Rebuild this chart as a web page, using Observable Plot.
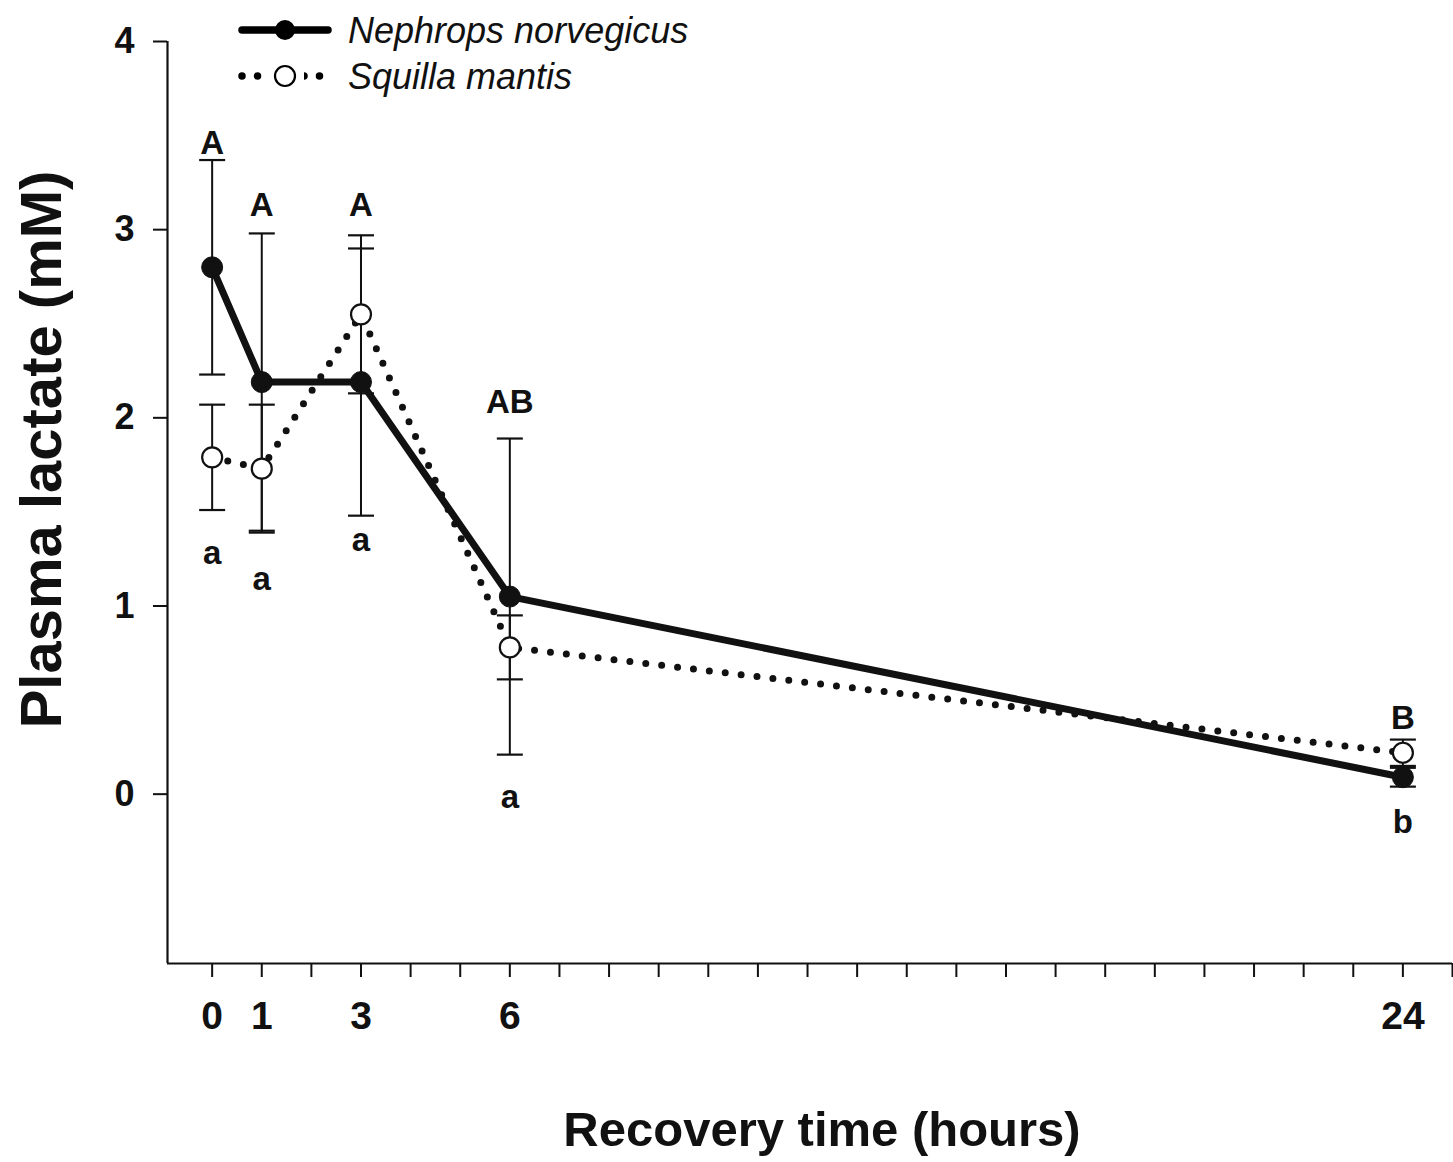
<!DOCTYPE html>
<html>
<head>
<meta charset="utf-8">
<script src="https://cdn.jsdelivr.net/npm/d3@7"></script>
<script src="https://cdn.jsdelivr.net/npm/@observablehq/plot@0.6"></script>
<style>
  html, body { margin: 0; padding: 0; background: #fff; }
  #wrap { position: relative; width: 1453px; height: 1162px; font-family: "Liberation Sans", Arial, sans-serif; }
  #legend { position: absolute; left: 0; top: 0; }
</style>
</head>
<body>
<div id="wrap">
  <div id="chart"></div>
  <svg id="legend" width="720" height="110" font-family="Liberation Sans, Arial, sans-serif">
    <line x1="242" y1="30" x2="328" y2="30" stroke="#000" stroke-width="7.5" stroke-linecap="round"></line>
    <circle cx="285" cy="30" r="10" fill="#000"></circle>
    <text x="348" y="30" dy="0.35em" font-size="36" font-style="italic" fill="#111">Nephrops norvegicus</text>
    <line x1="242" y1="76" x2="330" y2="76" stroke="#000" stroke-width="7.5" stroke-linecap="round" stroke-dasharray="0,15.5"></line>
    <rect x="266" y="62" width="38" height="28" fill="#fff"></rect>
    <circle cx="285" cy="76" r="10" fill="#fff" stroke="#000" stroke-width="2.2"></circle>
    <text x="348" y="76" dy="0.35em" font-size="36" font-style="italic" fill="#111">Squilla mantis</text>
  </svg>
</div>
<script>
// ---- data ----
const hours = [0, 1, 3, 6, 24];
const nephropsMean = [2.80, 2.19, 2.19, 1.05, 0.09];
const nephropsSE   = [0.57, 0.79, 0.71, 0.84, 0.05];
const squillaMean  = [1.79, 1.73, 2.55, 0.78, 0.22];
const squillaSE    = [0.28, 0.34, 0.42, 0.17, 0.07];
const upperLetters = ["A", "A", "A", "AB", "B"];
const upperLetterY = [3.46, 3.13, 3.13, 2.08, 0.40];
const lowerLetters = ["a", "a", "a", "a", "b"];
const lowerLetterY = [1.28, 1.14, 1.35, -0.02, -0.15];
const xTickValues = d3.range(0, 26);
const xTickLabels = [0, 1, 3, 6, 24];
const yTickValues = [0, 1, 2, 3, 4];
const xDomain = [-0.9, 25];
const yDomain = [-0.9, 4];

const nephrops = hours.map((h, i) => ({x: h, y: nephropsMean[i], lo: nephropsMean[i] - nephropsSE[i], hi: nephropsMean[i] + nephropsSE[i]}));
const squilla  = hours.map((h, i) => ({x: h, y: squillaMean[i], lo: squillaMean[i] - squillaSE[i], hi: squillaMean[i] + squillaSE[i]}));
const caps = [...nephrops, ...squilla].flatMap(d => [{x: d.x, y: d.lo}, {x: d.x, y: d.hi}]);
const upper = hours.map((h, i) => ({x: h, y: upperLetterY[i], t: upperLetters[i]}));
const lower = hours.map((h, i) => ({x: h, y: lowerLetterY[i], t: lowerLetters[i]}));

// horizontal cap symbol for error bars
const capSymbol = {
  draw(context, size) {
    const r = Math.sqrt(size / Math.PI);
    context.moveTo(-r, 0);
    context.lineTo(r, 0);
  }
};

const chart = Plot.plot({
  width: 1453,
  height: 1162,
  marginLeft: 167,
  marginRight: 1,
  marginTop: 41,
  marginBottom: 199,
  style: {fontFamily: "Liberation Sans, Arial, sans-serif", background: "#fff", color: "#111"},
  x: {domain: xDomain},
  y: {domain: yDomain},
  marks: [
    Plot.axisY({ticks: yTickValues, tickSize: 14, tickPadding: 19, strokeWidth: 2, fontSize: 36, fontWeight: "bold", label: null, tickFormat: d => d}),
    Plot.axisX({ticks: xTickValues, tickSize: 14, tickPadding: 24, strokeWidth: 2, fontSize: 39, fontWeight: "bold", label: null,
      tickFormat: d => xTickLabels.includes(d) ? String(d) : ""}),
    Plot.ruleX([xDomain[0]], {y1: yDomain[0], y2: yDomain[1], strokeWidth: 2.2, stroke: "#111"}),
    Plot.ruleY([yDomain[0]], {x1: xDomain[0], x2: xDomain[1], strokeWidth: 2.2, stroke: "#111"}),
    // error bars
    Plot.ruleX(nephrops, {x: "x", y1: "lo", y2: "hi", stroke: "#111", strokeWidth: 2}),
    Plot.ruleX(squilla, {x: "x", y1: "lo", y2: "hi", stroke: "#111", strokeWidth: 2}),
    Plot.dot(caps, {x: "x", y: "y", symbol: capSymbol, r: 13, stroke: "#111", strokeWidth: 2.2, fill: "none"}),
    // lines
    Plot.line(squilla, {x: "x", y: "y", stroke: "#111", strokeWidth: 7, strokeLinecap: "round", strokeDasharray: "0,16"}),
    Plot.line(nephrops, {x: "x", y: "y", stroke: "#111", strokeWidth: 7}),
    // markers
    Plot.dot(squilla, {x: "x", y: "y", r: 10, fill: "#fff", stroke: "#111", strokeWidth: 2.2}),
    Plot.dot(nephrops, {x: "x", y: "y", r: 10.5, fill: "#111", stroke: "#111", strokeWidth: 1}),
    // significance letters
    Plot.text(upper, {x: "x", y: "y", text: "t", fontSize: 33, fontWeight: "bold", fill: "#111"}),
    Plot.text(lower, {x: "x", y: "y", text: "t", fontSize: 33, fontWeight: "bold", fill: "#111"}),
    // axis titles
    Plot.text(["Recovery time (hours)"], {frameAnchor: "bottom", textAnchor: "middle", lineAnchor: "middle", dx: 12, dy: 167, fontSize: 49, fontWeight: "bold", fill: "#111"}),
    Plot.text(["Plasma lactate (mM)"], {frameAnchor: "left", textAnchor: "middle", lineAnchor: "middle", dx: -125, dy: -53, rotate: -90, fontSize: 58, fontWeight: "bold", fill: "#111"})
  ]
});
document.getElementById("chart").appendChild(chart);
</script>
</body>
</html>
